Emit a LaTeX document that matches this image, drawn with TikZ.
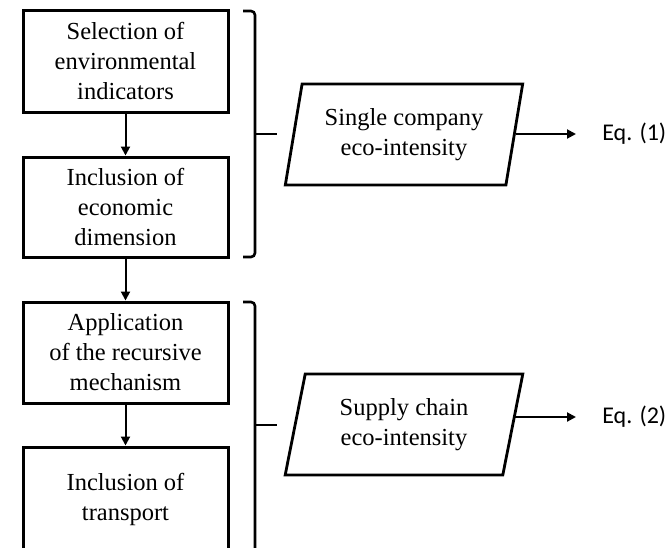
\documentclass[tikz,border=0pt]{standalone}
\usepackage{fontspec}
\setmainfont{Liberation Serif}
\newfontfamily\eqfont{Carlito}
\usepackage{tikz}
\usetikzlibrary{arrows.meta,shapes.geometric}

\begin{document}
\begin{tikzpicture}[x=1pt,y=-1pt,semithick]
        \tikzstyle{stepbox}=[
            rectangle,
            draw=black,
            line width=3pt,
            minimum width=205pt,
            inner sep=0pt,
            align=center,
            font=\fontsize{24.5}{30}\selectfont
        ]
        \tikzstyle{resultbox}=[
            trapezium,
            trapezium left angle=76,
            trapezium right angle=104,
            trapezium stretches=true,
            draw=black,
            line width=2.8pt,
            minimum width=238pt,
            minimum height=101pt,
            inner sep=0pt,
            align=center,
            font=\fontsize{24.5}{30}\selectfont
        ]
        \tikzstyle{eqlabel}=[
            anchor=west,
            inner sep=0pt,
            font=\eqfont\fontsize{24}{28}\selectfont
        ]
        \tikzstyle{flow}=[-{Triangle[length=9pt,width=9pt]}, line width=2pt]
        \tikzstyle{bracket}=[line width=2.6pt, rounded corners=4pt]

        \useasboundingbox (0,0) rectangle (667,547);
        \clip (0,0) rectangle (667,547);

        \node[stepbox, minimum height=102pt] (B1) at (125.5,61){Selection of\\environmental\\indicators};
        \node[stepbox, minimum height=100pt] (B2) at (125.5,207){Inclusion of\\economic\\dimension};
        \node[stepbox, minimum height=101pt] (B3) at (125.5,352.5){Application\\of the recursive\\mechanism};
        \node[stepbox, minimum height=104pt] (B4) at (125.5,499){Inclusion of\\transport};

        \node[resultbox] (P1) at (404,134.5){Single company\\eco-intensity};
        \node[resultbox] (P2) at (404,424.5){Supply chain\\eco-intensity};

        \node[eqlabel] (E1) at (602,134){Eq. (1)};
        \node[eqlabel] (E2) at (602,417){Eq. (2)};

        \draw[flow] (B1) -- (B2);
        \draw[flow] (B2) -- (B3);
        \draw[flow] (B3) -- (B4);

        % brackets round the two groups of steps
        \draw[bracket] (243,11) -- (255,11) -- (255,257) -- (243,257);
        \draw[line width=2.6pt] (255,134) -- (277,134);
        \draw[bracket] (243,302) -- (255,302) -- (255,570) -- (243,570);
        \draw[line width=2.6pt] (255,425) -- (277,425);

        \draw[flow, shorten >=26pt] (P1.east |- E1.west) -- (E1.west);
        \draw[flow, shorten >=26pt] (P2.east |- E2.west) -- (E2.west);

    \end{tikzpicture}
\end{document}
